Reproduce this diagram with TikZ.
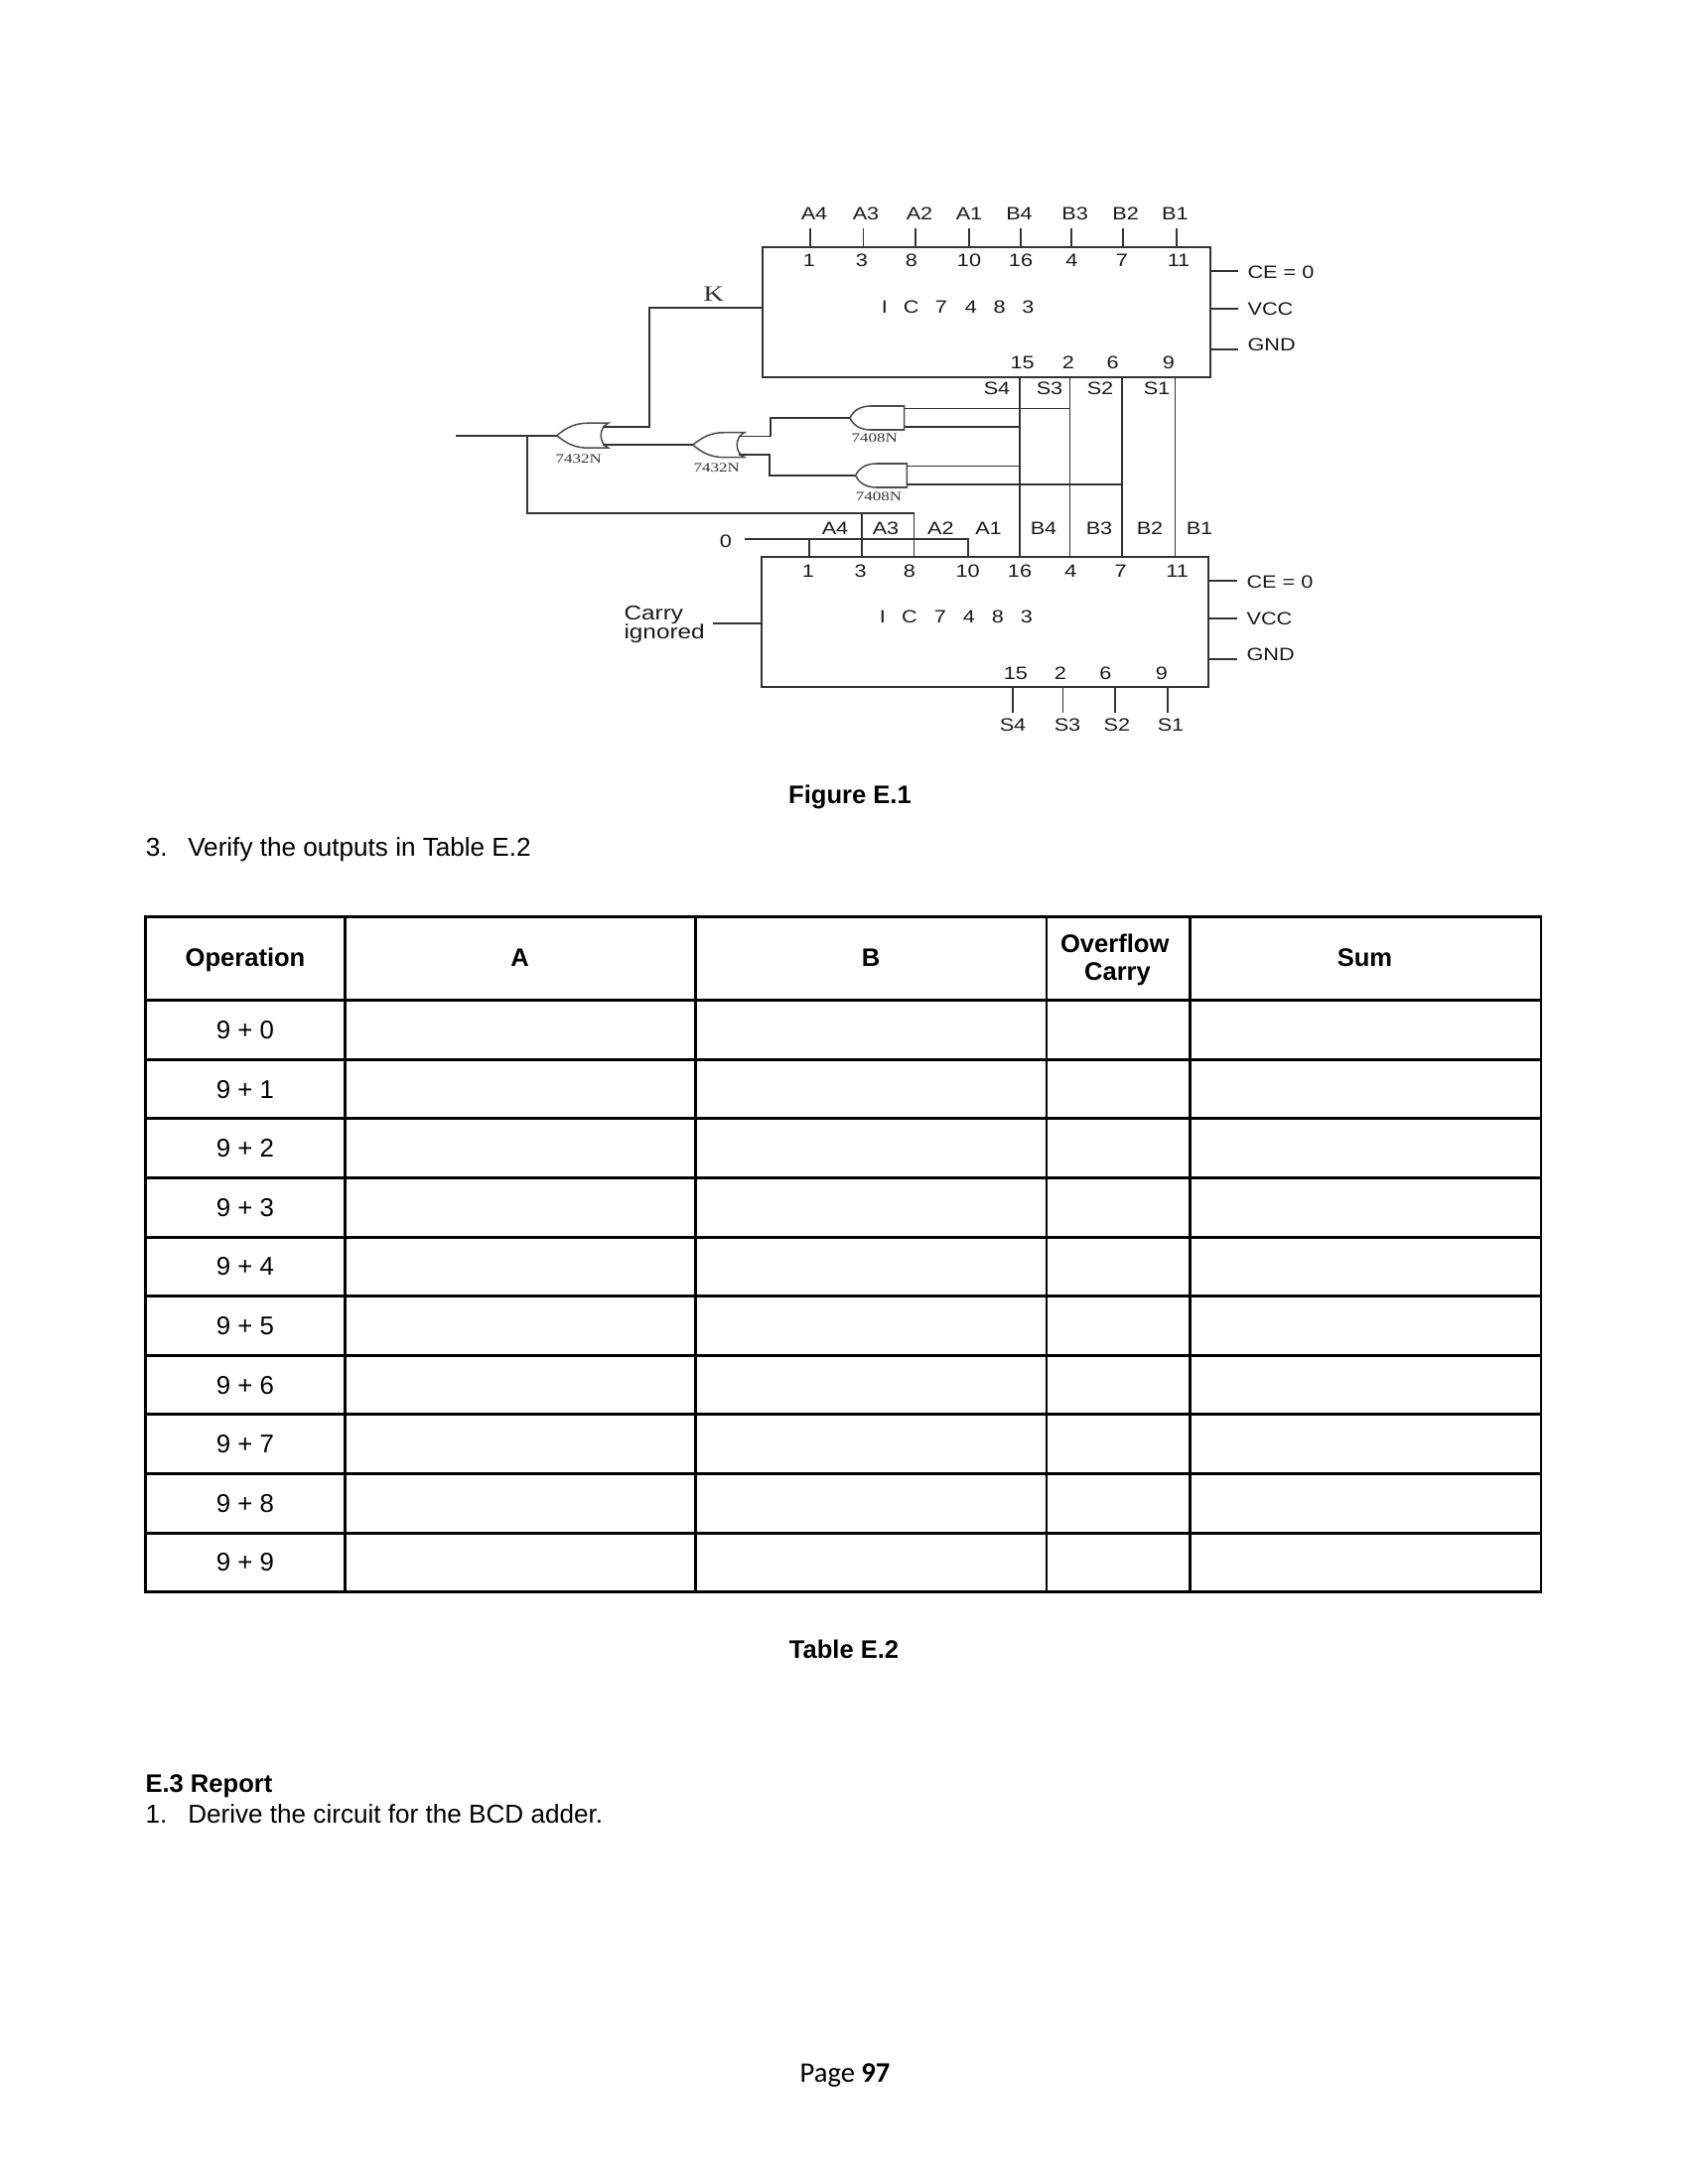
\documentclass[tikz,border=0pt]{standalone}
\usepackage{fontspec}
\setmainfont{Liberation Sans}
\newfontfamily\widesans[FakeStretch=1.2]{Liberation Sans}
\newfontfamily\wideserif[FakeStretch=1.3]{Liberation Serif}
\newfontfamily\pagefont{Carlito}
\usetikzlibrary{calc,positioning}
\tikzset{
  wire/.style={line width=.65pt,black!80},
  gateline/.style={line width=.55pt,black!70},
  cellline/.style={line width=1.05pt,black},
  pinlabel/.style={font=\widesans\fontsize{6.5}{7}\selectfont,inner sep=0pt,black!90},
  partlabel/.style={font=\wideserif\fontsize{4.7}{5}\selectfont,inner sep=0pt,black!80},
  icbox/.style={draw,line width=.65pt,black!80,inner sep=0pt,outer sep=0pt,minimum width=#1*.36pt,minimum height=131*.36pt,anchor=north west},
  bodytext/.style={font=\fontsize{9.4}{11}\selectfont,inner sep=0pt,anchor=base west},
  boldtext/.style={font=\fontsize{9.2}{11}\selectfont\bfseries,inner sep=0pt},
  celltext/.style={font=\fontsize{9.3}{11}\selectfont,inner sep=0pt},
  pics/orgate/.style={code={
    \draw[gateline] (0,0) .. controls (10,-8) and (18,-12.5) .. (32,-12.5) -- (52,-12.5)
      .. controls (42,-8) and (42,8) .. (52,12.5) -- (32,12.5) .. controls (18,12.5) and (10,8) .. (0,0);
    \coordinate (-tip) at (0,0);
    \coordinate (-out1) at (46.5,-8.7);
    \coordinate (-out2) at (46.5,9.5);
  }},
  pics/andgate/.style={code={
    \draw[gateline] (0,0) .. controls (3,-7) and (10,-12) .. (21,-12) -- (#1,-12) -- (#1,12) -- (21,12)
      .. controls (10,12) and (3,7) .. (0,0);
    \coordinate (-tip) at (0,0);
    \coordinate (-in1) at (#1,-9.5);
    \coordinate (-in2) at (#1,8.7);
  }},
}
\begin{document}
\begin{tikzpicture}[x=.36pt,y=-.36pt]
\useasboundingbox (0,0) rectangle (1700,2200);

% upper adder
\node[icbox=451] (ic1) at (768,249.3) {};
\foreach \nm/\xx/\yy in {A4/820/815.7,A3/872/869.5,A2/926/921.7,A1/976/975.8,B4/1026.5/1028,B3/1082.6/1078.6,B2/1133.6/1130.8,B1/1183.4/1185}{
  \node[pinlabel] (up\nm) at (\xx,215) {\nm};
  \coordinate (upstub\nm) at (\yy,230);
  \draw[wire] (upstub\nm) -- (upstub\nm |- ic1.north);
}
\foreach \nm/\xx in {1/815,3/868,8/918,10/976,16/1028,4/1079.4,7/1130,11/1187}
  \node[pinlabel] (upnum\nm) at (\xx,262.7) {\nm};
\foreach \nm/\xx in {15/1029.6,2/1076,6/1120.6,9/1177}
  \node[pinlabel] (upout\nm) at (\xx,365) {\nm};
\foreach \nm/\xx in {I/890.8,C/917.7,7/947.8,4/978,8/1006.7,3/1035.5}
  \node[pinlabel] (upic\nm) at (\xx,309) {\nm};
\foreach \nm/\xx in {S4/1004,S3/1057,S2/1108,S1/1165}
  \node[pinlabel] (up\nm) at (\xx,391.7) {\nm};
\foreach \nm/\yy/\ly/\txt in {ce/272.7/274.7/{CE = 0},vcc/311/311/VCC,gnd/352.3/347.3/GND}{
  \coordinate (up\nm) at (1247,\yy);
  \draw[wire] (up\nm -| ic1.east) -- (up\nm);
  \node[pinlabel,anchor=west] (uplab\nm) at (1256,\ly) {\txt};
}

% lower adder
\node[icbox=450] (ic2) at (767,561.3) {};
\foreach \nm/\xx in {A4/841,A3/892,A2/947.3,A1/995.5,B4/1051,B3/1107,B2/1158,B1/1208}
  \node[pinlabel] (lo\nm) at (\xx,532) {\nm};
\foreach \nm/\xx in {1/814,3/866.6,8/916,10/974.7,16/1027,4/1078.5,7/1128.6,11/1185.6}
  \node[pinlabel] (lonum\nm) at (\xx,575) {\nm};
\foreach \nm/\xx in {15/1022.8,2/1068,6/1113.4,9/1170}
  \node[pinlabel] (loout\nm) at (\xx,678) {\nm};
\foreach \nm/\xx in {I/888.8,C/916,7/947,4/976,8/1005,3/1034}
  \node[pinlabel] (loic\nm) at (\xx,621.7) {\nm};
\foreach \nm/\xx/\yy in {S4/1020/1020,S3/1075/1070.5,S2/1124.8/1123,S1/1179/1176}{
  \node[pinlabel] (lo\nm) at (\xx,730) {\nm};
  \coordinate (lostub\nm) at (\yy,717.7);
  \draw[wire] (lostub\nm |- ic2.south) -- (lostub\nm);
}
\foreach \nm/\yy/\ly/\txt in {ce/585/586.7/{CE = 0},vcc/623/623.3/VCC,gnd/664.3/659.7/GND}{
  \coordinate (lo\nm) at (1245.6,\yy);
  \draw[wire] (lo\nm -| ic2.east) -- (lo\nm);
  \node[pinlabel,anchor=west] (lolab\nm) at (1255,\ly) {\txt};
}
\node[pinlabel,anchor=west,font=\widesans\fontsize{7.3}{8}\selectfont] (carry1) at (628,619.5) {Carry};
\node[pinlabel,anchor=west,font=\widesans\fontsize{7.3}{8}\selectfont] (carry2) at (628,638) {ignored};
\coordinate (carrystub) at (718,627.7);
\draw[wire] (carrystub) -- (carrystub -| ic2.west);

% sum lines between the two chips
\foreach \nm/\xx in {s4/1026.8,s3/1077.5,s2/1129.6,s1/1183.4}{
  \coordinate (\nm) at (\xx,450);
  \draw[wire] (\nm |- ic1.south) -- (\nm |- ic2.north);
}

% gates
\pic (or1) at (560.7,438.7) {orgate};
\pic (or2) at (697.7,448.2) {orgate};
\pic (and1) at (856,421) {andgate=54.7};
\pic (and2) at (861.7,479) {andgate=51.6};
\node[partlabel] (or1lab) at (582.7,462) {7432N};
\node[partlabel] (or2lab) at (721.7,471) {7432N};
\node[partlabel] (and1lab) at (880.7,441.7) {7408N};
\node[partlabel] (and2lab) at (885,500) {7408N};

\draw[wire] (and1-in1) -- (and1-in1 -| s3);
\draw[wire] (and1-in2) -- (and1-in2 -| s4);
\draw[wire] (and2-in1) -- (and2-in1 -| s4);
\draw[wire] (and2-in2) -- (and2-in2 -| s2);

\coordinate (bend1) at (776,421);
\coordinate (bend2) at (774.7,479);
\draw[wire] (or2-out1) -| (bend1) -- (and1-tip);
\draw[wire] (or2-out2) -| (bend2) -- (and2-tip);
\draw[wire] (or1-out2) -- (or2-tip);

% K goes to carry in and to A3, A2
\node[font=\wideserif\fontsize{8}{9}\selectfont,inner sep=0pt,black!80] (klab) at (718.7,296.7) {K};
\coordinate (kin) at (768,310);
\coordinate (kbend) at (654,310);
\draw[wire] (or1-out1) -| (kbend) -- (kin);
\coordinate (input) at (459.3,438.7);
\coordinate (junc) at (530.7,438.7);
\draw[wire] (input) -- (or1-tip);
\coordinate (a2in) at (920.4,517.3);
\coordinate (a3in) at (868,517.3);
\draw[wire] (junc) |- (a2in) -- (a2in |- ic2.north);
\draw[wire] (a3in) -- (a3in |- ic2.north);

% tied to zero
\node[pinlabel] (zero) at (731,545) {0};
\coordinate (zline) at (749.6,543);
\coordinate (a4in) at (815.2,543);
\coordinate (a1in) at (974.7,543);
\draw[wire] (zline) -- (a1in) -- (a1in |- ic2.north);
\draw[wire] (a4in) -- (a4in |- ic2.north);

\node[boldtext,anchor=base] (figcap) at (856,809.3) {Figure E.1};
\node[bodytext] (num3) at (146.3,862.7) {3.};
\node[bodytext] (verify) at (188.7,862.7) {Verify the outputs in Table E.2};

% table
\draw[cellline] (146.8,923.3) rectangle (1552,1603.5);
\foreach \xx in {347.3,700.5,1054,1198.5}
  \draw[cellline] (\xx,923.3) -- (\xx,1603.5);
\foreach \k in {0,...,9}
  \draw[cellline] (146.8,1007.7+59.6*\k) -- (1552,1007.7+59.6*\k);
\node[boldtext] (hop) at (247,966.5) {Operation};
\node[boldtext] (ha) at (523.6,965) {A};
\node[boldtext] (hb) at (877,965) {B};
\node[boldtext] (hover) at (1122.7,950) {Overflow};
\node[boldtext] (hcarry) at (1125.5,981.5) {Carry};
\node[boldtext] (hsum) at (1374.5,965) {Sum};
\foreach \k in {0,...,9}
  \node[celltext] (op\k) at (247,1037.5+59.6*\k) {9 + \k};

\node[boldtext,anchor=base] (tabcap) at (850,1670) {Table E.2};
\node[boldtext,anchor=base west] (report) at (146,1805) {E.3 Report};
\node[bodytext] (num1) at (146,1836) {1.};
\node[bodytext] (derive) at (188.7,1836) {Derive the circuit for the BCD adder.};
\node[font=\pagefont\fontsize{10.3}{12}\selectfont,inner sep=0pt,anchor=base] (pagenum) at (851,2097.5) {Page \textbf{97}};
\end{tikzpicture}
\end{document}
